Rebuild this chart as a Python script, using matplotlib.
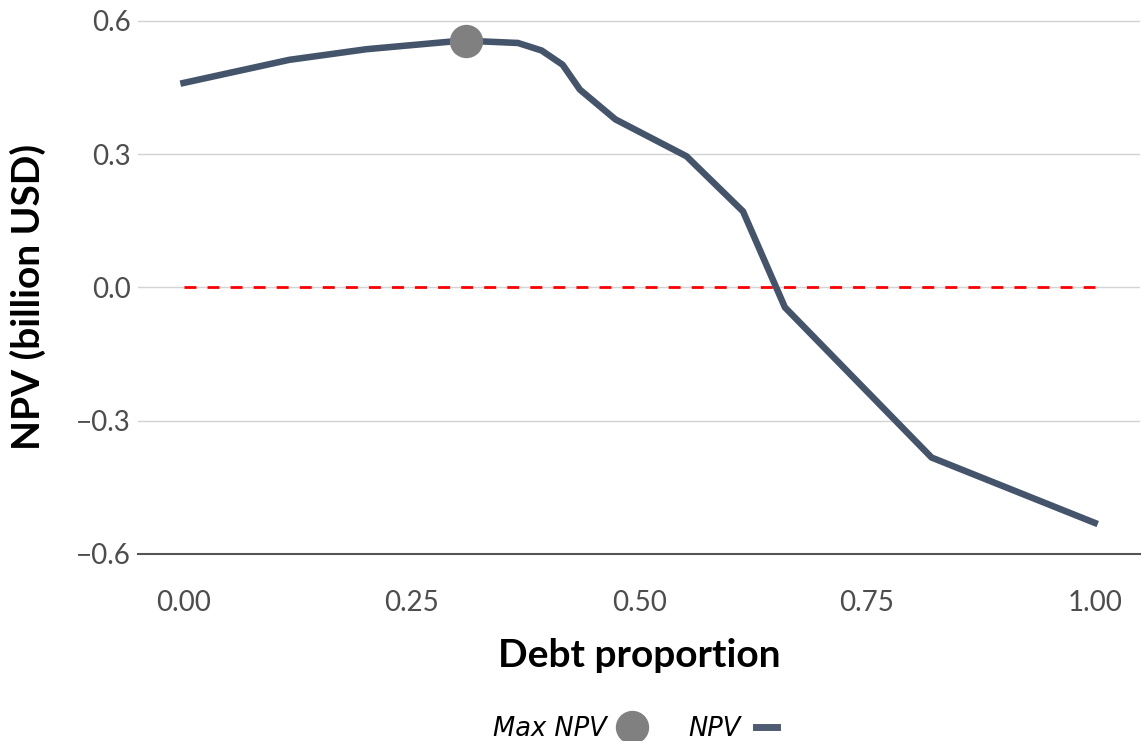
import matplotlib
matplotlib.use("Agg")
import matplotlib.pyplot as plt
from matplotlib.lines import Line2D

debt = [0.0, 0.116, 0.201, 0.293, 0.31, 0.367, 0.393, 0.416, 0.435, 0.474, 0.552, 0.614, 0.66, 0.821, 1.0]
npv = [0.460, 0.512, 0.536, 0.553, 0.555, 0.550, 0.533, 0.501, 0.445, 0.378, 0.295, 0.171, -0.045, -0.383, -0.530]
max_x = [0.31]
max_y = [0.555]
xticks = [0.0, 0.25, 0.5, 0.75, 1.0]
xticklabels = ["0.00", "0.25", "0.50", "0.75", "1.00"]
yticks = [-0.6, -0.3, 0.0, 0.3, 0.6]
yticklabels = ["\u22120.6", "\u22120.3", "0.0", "0.3", "0.6"]

fig = plt.figure(figsize=(11.46, 7.41), dpi=100)
ax = fig.add_axes([0.1204, 0.2524, 0.8746, 0.7316])

line_color = "#44546A"
ax.set_xlim(-0.05, 1.05)
ax.set_ylim(-0.6, 0.62)

for yv in yticks[1:]:
    ax.axhline(yv, color="#d3d3d3", lw=1.0, zorder=1)
ax.plot([0, 1], [0, 0], color="red", lw=2, ls=(0, (4.3, 4.0)), zorder=2)
ax.plot(debt, npv, color=line_color, lw=4.7, solid_joinstyle="miter", zorder=3)
ax.plot(max_x, max_y, "o", color="#808080", markersize=23, zorder=4)

for s in ["top", "right", "left"]:
    ax.spines[s].set_visible(False)
ax.spines["bottom"].set_color("#555555")
ax.spines["bottom"].set_linewidth(1.5)

ax.set_xticks(xticks)
ax.set_xticklabels(xticklabels)
ax.set_yticks(yticks)
ax.set_yticklabels(yticklabels)
ax.tick_params(axis="x", length=0, pad=26, labelsize=20, labelcolor="#4d4d4d")
ax.tick_params(axis="y", length=0, pad=5, labelsize=20, labelcolor="#4d4d4d")
for lab in ax.get_xticklabels() + ax.get_yticklabels():
    lab.set_fontfamily("Lato")

ax.set_xlabel("Debt proportion", fontsize=28, fontweight="bold", fontfamily="Lato", labelpad=16)
ax.set_ylabel("NPV (billion USD)", fontsize=28, fontweight="bold", fontfamily="Lato")
ax.yaxis.set_label_coords(-0.092, 0.474)

handles = [
    Line2D([], [], ls="none", marker="o", color="#808080", markersize=23),
    Line2D([], [], color="#4f5b73", lw=5),
]
fig.legend(handles, ["Max NPV", "NPV"], loc="lower center", bbox_to_anchor=(0.554, -0.033),
           ncol=2, frameon=False, markerfirst=False, handlelength=0.8,
           columnspacing=1.8, handletextpad=0.6,
           prop={"family": "DejaVu Sans", "style": "italic", "size": 18.5})

fig.savefig("out.png", dpi=100, facecolor="white")
